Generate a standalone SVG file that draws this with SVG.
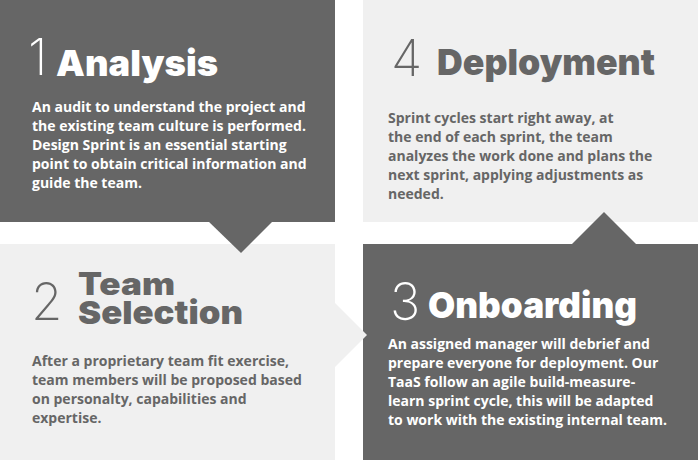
<svg xmlns="http://www.w3.org/2000/svg" width="698" height="460" viewBox="0 0 698 460">
<style>
.dark{fill:#666666}
.light{fill:#f0f0f0}
.num{font-family:Inter,"Liberation Sans",sans-serif;font-weight:200;font-size:51px}
.head{font-family:Inter,"Liberation Sans",sans-serif;font-weight:900;font-size:36px}
.body{font-family:"Open Sans","Liberation Sans",sans-serif;font-weight:700;font-size:14px}
.w{fill:#ffffff}
.g{fill:#666666}
</style>
<rect width="698" height="460" fill="#ffffff"/>
<g id="panel-analysis">
<rect class="dark" x="0" y="0" width="335" height="222"/>
<text class="num w" x="28" y="75">1</text>
<text class="head w" x="56" y="76" textLength="162" lengthAdjust="spacingAndGlyphs">Analysis</text>
<text class="body w">
<tspan x="32" y="112">An audit to understand the project and</tspan>
<tspan x="32" y="131">the existing team culture is performed.</tspan>
<tspan x="32" y="150">Design Sprint is an essential starting</tspan>
<tspan x="32" y="169">point to obtain critical information and</tspan>
<tspan x="32" y="188">guide the team.</tspan>
</text>
</g>
<g id="panel-deployment">
<rect class="light" x="363" y="0" width="335" height="222"/>
<text class="num g" x="391" y="76">4</text>
<text class="head g" x="437" y="75" textLength="218" lengthAdjust="spacingAndGlyphs">Deployment</text>
<text class="body g">
<tspan x="388" y="123">Sprint cycles start right away, at</tspan>
<tspan x="388" y="142">the end of each sprint, the team</tspan>
<tspan x="388" y="161">analyzes the work done and plans the</tspan>
<tspan x="388" y="180">next sprint, applying adjustments as</tspan>
<tspan x="388" y="199">needed.</tspan>
</text>
</g>
<g id="panel-team-selection">
<rect class="light" x="0" y="244" width="335" height="216"/>
<text class="num g" x="31" y="320">2</text>
<text class="head g"><tspan x="78" y="295" style="font-size:31px" textLength="97" lengthAdjust="spacingAndGlyphs">Team</tspan><tspan x="78" y="324" style="font-size:32px" textLength="165" lengthAdjust="spacingAndGlyphs">Selection</tspan></text>
<text class="body g">
<tspan x="32" y="366">After a proprietary team fit exercise,</tspan>
<tspan x="32" y="385">team members will be proposed based</tspan>
<tspan x="32" y="404">on personalty, capabilities and</tspan>
<tspan x="32" y="423">expertise.</tspan>
</text>
</g>
<g id="panel-onboarding">
<rect class="dark" x="363" y="244" width="335" height="216"/>
<text class="num w" x="390" y="320">3</text>
<text class="head w" x="428" y="318" textLength="209" lengthAdjust="spacingAndGlyphs">Onboarding</text>
<text class="body w">
<tspan x="388" y="349">An assigned manager will debrief and</tspan>
<tspan x="388" y="368">prepare everyone for deployment. Our</tspan>
<tspan x="388" y="387">TaaS follow an agile build-measure-</tspan>
<tspan x="388" y="406">learn sprint cycle, this will be adapted</tspan>
<tspan x="388" y="425">to work with the existing internal team.</tspan>
</text>
</g>
<g id="connectors">
<polygon class="dark" points="208,221 273,221 241,253"/>
<polygon class="light" points="334,302 367,335 334,368"/>
<polygon class="dark" points="571,245 604,212 637,245"/>
</g>
</svg>
